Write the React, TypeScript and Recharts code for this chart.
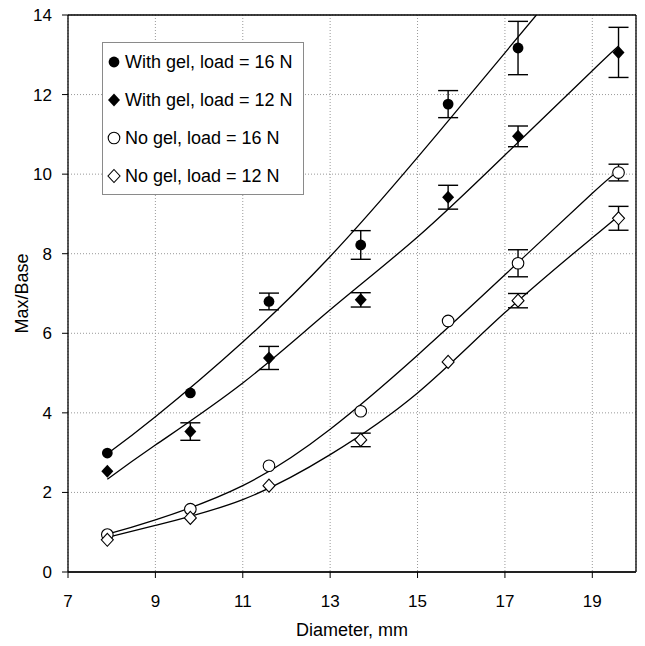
import React from "react";
import {
  CartesianGrid,
  ComposedChart,
  ErrorBar,
  Legend,
  Line,
  ReferenceLine,
  Scatter,
  XAxis,
  YAxis,
} from "recharts";

// measured points (diameter in mm, Max/Base ratio)
const diameters = [7.9, 9.8, 11.6, 13.7, 15.7, 17.3, 19.6];
const gel16 = [2.99, 4.5, 6.8, 8.22, 11.76, 13.17];
const gel16Err = [0, 0, 0.21, 0.36, 0.34, 0.67];
const gel12 = [2.53, 3.53, 5.38, 6.84, 9.42, 10.95, 13.06];
const gel12Err = [0, 0.22, 0.29, 0.18, 0.3, 0.26, 0.63];
const noGel16 = [0.94, 1.58, 2.67, 4.04, 6.31, 7.76, 10.04];
const noGel16Err = [0, 0, 0, 0, 0, 0.34, 0.21];
const noGel12 = [0.81, 1.36, 2.17, 3.32, 5.28, 6.82, 8.89];
const noGel12Err = [0, 0, 0, 0.17, 0, 0.18, 0.3];

// trend curves
const trendGel16X = [7.9, 9, 11, 13, 15, 17, 17.72];
const trendGel16Y = [2.97, 3.9, 5.78, 7.93, 10.42, 13.05, 14];
const trendGel12X = [7.9, 9, 11, 13, 15, 17, 19, 19.6];
const trendGel12Y = [2.33, 3.19, 4.75, 6.59, 8.42, 10.48, 12.6, 13.22];
const trendNoGel16X = [7.9, 9, 11, 13, 15, 17, 19, 19.6];
const trendNoGel16Y = [0.95, 1.31, 2.17, 3.59, 5.45, 7.47, 9.52, 10.08];
const trendNoGel12X = [7.9, 9, 11, 13, 15, 17, 19, 19.6];
const trendNoGel12Y = [0.87, 1.17, 1.82, 2.95, 4.5, 6.52, 8.4, 8.95];

const xTicks = [7, 9, 11, 13, 15, 17, 19];
const yTicks = [0, 2, 4, 6, 8, 10, 12, 14];

const labels = [
  "With gel, load = 16 N",
  "With gel, load = 12 N",
  "No gel, load = 16 N",
  "No gel, load = 12 N",
];

const toPoints = (ys: number[], errs: number[]) =>
  ys.map((y, i) => ({ x: diameters[i], y, err: errs[i] }));
const toCurve = (xs: number[], ys: number[]) =>
  xs.map((x, i) => ({ x, y: ys[i] }));

const FilledCircle = (p: any) => (
  <circle cx={p.cx} cy={p.cy} r={5.4} fill="#000" />
);
const OpenCircle = (p: any) => (
  <circle cx={p.cx} cy={p.cy} r={5.8} fill="#fff" stroke="#000" strokeWidth={1.1} />
);
const diamondPath = (cx: number, cy: number) =>
  `M${cx},${cy - 6.5}L${cx + 6},${cy}L${cx},${cy + 6.5}L${cx - 6},${cy}Z`;
const FilledDiamond = (p: any) => <path d={diamondPath(p.cx, p.cy)} fill="#000" />;
const OpenDiamond = (p: any) => (
  <path d={diamondPath(p.cx, p.cy)} fill="#fff" stroke="#000" strokeWidth={1.1} />
);

const shapes = [FilledCircle, FilledDiamond, OpenCircle, OpenDiamond];

function LegendBox() {
  return (
    <div
      style={{
        width: 202,
        height: 153,
        border: "1px solid #8a8a8a",
        background: "#fff",
        boxSizing: "border-box",
      }}
    >
      {labels.map((label, i) => {
        const Shape = shapes[i];
        return (
          <div
            key={label}
            style={{ height: 38.1, display: "flex", alignItems: "center" }}
          >
            <svg width={14} height={16} style={{ marginLeft: 4, marginRight: 4 }}>
              <Shape cx={7} cy={8} />
            </svg>
            <span style={{ fontSize: 18, color: "#000", whiteSpace: "nowrap" }}>
              {label}
            </span>
          </div>
        );
      })}
    </div>
  );
}

export default function App() {
  const series = [
    toPoints(gel16, gel16Err),
    toPoints(gel12, gel12Err),
    toPoints(noGel16, noGel16Err),
    toPoints(noGel12, noGel12Err),
  ];
  const curves = [
    toCurve(trendGel16X, trendGel16Y),
    toCurve(trendGel12X, trendGel12Y),
    toCurve(trendNoGel16X, trendNoGel16Y),
    toCurve(trendNoGel12X, trendNoGel12Y),
  ];

  return (
    <div
      style={{
        position: "absolute",
        left: 0,
        top: 0,
        width: 645,
        height: 646,
        background: "#fff",
        fontFamily: '"Liberation Sans", Arial, sans-serif',
      }}
    >
      <ComposedChart
        width={645}
        height={646}
        margin={{ top: 15, right: 9, bottom: 0, left: 0 }}
      >
        <CartesianGrid stroke="#999" strokeDasharray="1 2" />
        <XAxis
          type="number"
          dataKey="x"
          domain={[7, 20]}
          ticks={xTicks}
          allowDataOverflow
          height={74}
          tickSize={6}
          tickMargin={17}
          tick={{ fontSize: 17, fill: "#000" }}
          axisLine={{ stroke: "#222", strokeWidth: 2 }}
          tickLine={{ stroke: "#000" }}
          label={{
            value: "Diameter, mm",
            position: "insideBottom",
            offset: 10,
            style: { fontSize: 18, fill: "#000" },
          }}
        />
        <YAxis
          type="number"
          dataKey="y"
          domain={[0, 14]}
          ticks={yTicks}
          allowDataOverflow
          width={68}
          tickSize={6}
          tickMargin={10}
          tick={{ fontSize: 17, fill: "#000" }}
          axisLine={{ stroke: "#000", strokeWidth: 1.3 }}
          tickLine={{ stroke: "#000" }}
          label={{
            value: "Max/Base",
            angle: -90,
            position: "insideLeft",
            offset: 22,
            style: { fontSize: 18, fill: "#000", textAnchor: "middle" },
          }}
        />
        <ReferenceLine y={14} stroke="#000" strokeWidth={1.3} />
        <ReferenceLine x={20} stroke="#000" strokeWidth={1.3} />
        {curves.map((c, i) => (
          <Line
            key={`trend-${i}`}
            data={c}
            dataKey="y"
            type="natural"
            stroke="#000"
            strokeWidth={1.3}
            dot={false}
            activeDot={false}
            legendType="none"
            isAnimationActive={false}
          />
        ))}
        {series.map((s, i) => (
          <Scatter
            key={labels[i]}
            name={labels[i]}
            data={s}
            shape={shapes[i]}
            isAnimationActive={false}
          >
            <ErrorBar
              dataKey="err"
              direction="y"
              width={10}
              stroke="#000"
              strokeWidth={1.4}
              isAnimationActive={false}
            />
          </Scatter>
        ))}
        <Legend
          layout="vertical"
          align="center"
          verticalAlign="middle"
          content={() => <LegendBox />}
          wrapperStyle={{ left: 102, top: 42, width: 202, height: 153 }}
        />
      </ComposedChart>
    </div>
  );
}
